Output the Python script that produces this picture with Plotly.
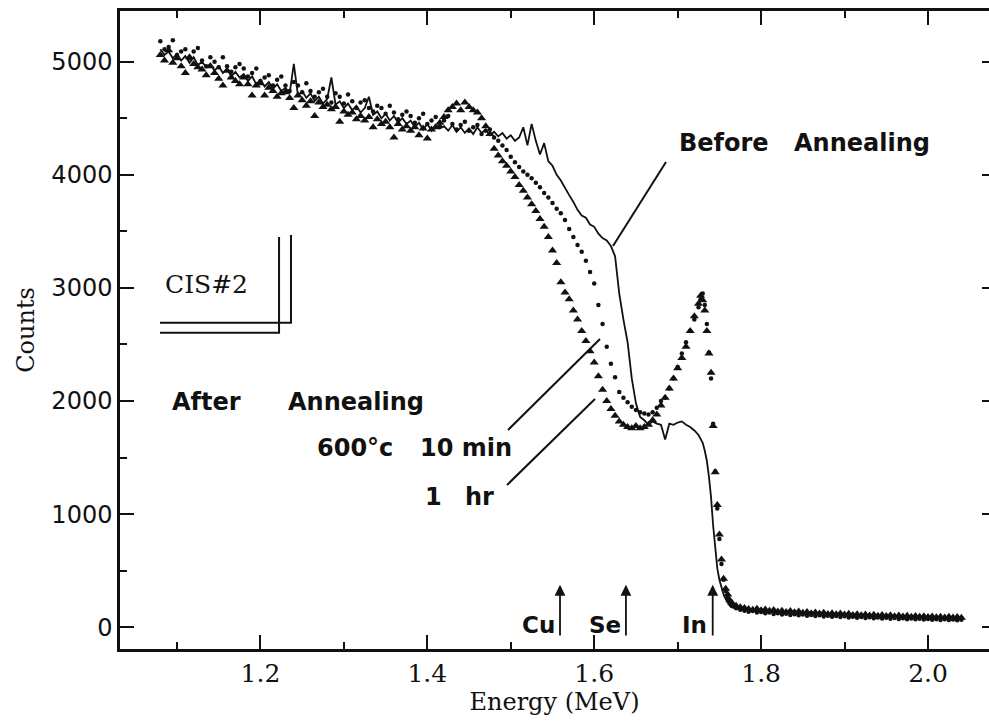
import plotly.graph_objects as go

# ---------------- data ----------------
energy = [
    1.080, 1.085, 1.090, 1.095, 1.100, 1.105, 1.110, 1.115, 1.120, 1.125,
    1.130, 1.135, 1.140, 1.145, 1.150, 1.155, 1.160, 1.165, 1.170, 1.175,
    1.180, 1.185, 1.190, 1.195, 1.200, 1.205, 1.210, 1.215, 1.220, 1.225,
    1.230, 1.235, 1.240, 1.245, 1.250, 1.255, 1.260, 1.265, 1.270, 1.275,
    1.280, 1.285, 1.290, 1.295, 1.300, 1.305, 1.310, 1.315, 1.320, 1.325,
    1.330, 1.335, 1.340, 1.345, 1.350, 1.355, 1.360, 1.365, 1.370, 1.375,
    1.380, 1.385, 1.390, 1.395, 1.400, 1.405, 1.410, 1.415, 1.420, 1.425,
    1.430, 1.435, 1.440, 1.445, 1.450, 1.455, 1.460, 1.465, 1.470, 1.475,
    1.480, 1.485, 1.490, 1.495, 1.500, 1.505, 1.510, 1.515, 1.520, 1.525,
    1.530, 1.535, 1.540, 1.545, 1.550, 1.555, 1.560, 1.565, 1.570, 1.575,
    1.580, 1.585, 1.590, 1.595, 1.600, 1.605, 1.610, 1.615, 1.620, 1.625,
    1.630, 1.635, 1.640, 1.645, 1.650, 1.655, 1.660, 1.665, 1.670, 1.675,
    1.680, 1.685, 1.690, 1.695, 1.700, 1.705, 1.710, 1.715, 1.720, 1.725,
    1.7275, 1.7300, 1.7325, 1.7350, 1.7375, 1.7400, 1.7425, 1.7450,
    1.7475, 1.7500, 1.7525, 1.7550, 1.7575, 1.7600, 1.7625,
    1.765, 1.770, 1.775, 1.780, 1.785, 1.790, 1.795, 1.800, 1.805, 1.810,
    1.815, 1.820, 1.825, 1.830, 1.835, 1.840, 1.845, 1.850, 1.855, 1.860,
    1.865, 1.870, 1.875, 1.880, 1.885, 1.890, 1.895, 1.900, 1.905, 1.910,
    1.915, 1.920, 1.925, 1.930, 1.935, 1.940, 1.945, 1.950, 1.955, 1.960,
    1.965, 1.970, 1.975, 1.980, 1.985, 1.990, 1.995, 2.000, 2.005, 2.010,
    2.015, 2.020, 2.025, 2.030, 2.035, 2.040,
]

counts_before = [
    5110, 5060, 5090, 5030, 5070, 5010, 5050, 4990, 5040, 4970,
    5000, 4950, 4980, 4920, 4960, 4900, 4940, 4870, 4910, 4860,
    4890, 4830, 4870, 4800, 4840, 4780, 4820, 4760, 4800, 4740,
    4770, 4720, 4980, 4700, 4740, 4680, 4720, 4650, 4690, 4630,
    4670, 4860, 4620, 4650, 4590, 4630, 4570, 4610, 4550, 4590,
    4690, 4530, 4560, 4500, 4540, 4480, 4520, 4460, 4500, 4450,
    4480, 4420, 4460, 4400, 4450, 4390, 4440, 4410, 4430, 4390,
    4440, 4380, 4420, 4370, 4410, 4360, 4420, 4370, 4400, 4350,
    4380, 4340, 4370, 4320, 4350, 4300, 4330, 4420, 4260, 4450,
    4300, 4180, 4280, 4120, 4080, 4000, 3950, 3880, 3820, 3760,
    3690, 3640, 3620, 3560, 3540, 3480, 3440, 3420, 3370, 3280,
    2950, 2720, 2520, 2200, 1980, 1860, 1830, 1790, 1820, 1800,
    1790, 1660, 1800, 1790, 1810, 1820, 1790, 1770, 1740, 1700,
    1670, 1630, 1560, 1470, 1330, 1150, 900, 680,
    520, 420, 350, 290, 250, 215, 190,
    175, 165, 158, 150, 148, 142, 145, 138, 140, 134,
    136, 130, 132, 127, 129, 124, 126, 121, 123, 118,
    120, 115, 117, 112, 114, 110, 111, 107, 109, 104,
    106, 102, 104, 99, 101, 97, 99, 95, 96, 93,
    95, 91, 92, 89, 90, 87, 88, 85, 86, 83,
    84, 81, 82, 80, 80, 78,
]

counts_10min = [
    5180, 5110, 5130, 5190, 5060, 5090, 5110, 5030, 5090, 5120,
    5010, 4960, 5040, 5000, 4950, 5040, 4960, 4910, 4950, 4980,
    4940, 4870, 4900, 4940, 4830, 4860, 4880, 4790, 4840, 4870,
    4790, 4740, 4820, 4790, 4730, 4810, 4740, 4690, 4730, 4760,
    4690, 4640, 4720, 4690, 4630, 4710, 4650, 4590, 4640, 4660,
    4590, 4560, 4610, 4590, 4540, 4610, 4550, 4490, 4530, 4560,
    4520, 4460, 4500, 4540, 4450, 4480, 4510, 4430, 4480, 4520,
    4450, 4400, 4440, 4470, 4390, 4420, 4440, 4360, 4390, 4400,
    4330, 4300, 4260, 4220, 4160, 4110, 4070, 4030, 4000, 3970,
    3930, 3890, 3840, 3800, 3750, 3700, 3660, 3600, 3520, 3450,
    3380, 3320, 3240, 3140, 3040, 2850, 2680, 2480, 2330, 2210,
    2080, 2030, 1990, 1950, 1920, 1900, 1890, 1880, 1900, 1940,
    2000, 2030, 2110, 2200, 2300, 2420, 2520, 2620, 2720, 2830,
    2900, 2950, 2850, 2680, 2430, 2200, 1800, 1380,
    1050, 780, 560, 420, 320, 260, 225,
    190, 168, 155, 146, 138, 143, 130, 136, 124, 130,
    118, 125, 113, 120, 109, 116, 106, 112, 102, 109,
    99, 106, 96, 103, 93, 100, 90, 97, 87, 94,
    85, 91, 83, 88, 80, 86, 78, 84, 76, 82,
    74, 80, 72, 78, 70, 76, 68, 74, 67, 72,
    65, 70, 64, 68, 63, 66,
]

counts_1hr = [
    5060, 5010, 5100, 4990, 5030, 4960, 4900, 5040, 4980, 4950,
    4930, 4880, 4960, 4900, 4850, 4790, 4920, 4860, 4830, 4800,
    4860, 4800, 4700, 4790, 4810, 4700, 4770, 4740, 4690, 4720,
    4730, 4680, 4590, 4700, 4660, 4610, 4650, 4520, 4640, 4600,
    4620, 4580, 4600, 4470, 4560, 4530, 4550, 4490, 4520, 4480,
    4510, 4420, 4490, 4450, 4470, 4420, 4330, 4450, 4400, 4430,
    4390, 4420, 4350, 4410, 4320, 4400, 4420, 4460, 4510, 4570,
    4600, 4630, 4570, 4640, 4600, 4570, 4550, 4500, 4430, 4360,
    4230, 4170, 4120, 4080, 4030, 3980, 3910, 3860, 3800, 3740,
    3680, 3610, 3540, 3450, 3330, 3220, 3050, 2960, 2900, 2800,
    2720, 2620, 2530, 2440, 2340, 2220, 2100, 2000, 1930, 1870,
    1820, 1790, 1770, 1760, 1780, 1760, 1770, 1790, 1830, 1880,
    1960, 2030, 2110, 2200, 2290, 2380, 2480, 2620, 2750, 2860,
    2930, 2890, 2800, 2620, 2420, 2250, 1780, 1370,
    1080, 820, 600, 430, 340, 290, 240,
    215, 190, 178, 170, 162, 156, 164, 150, 158, 146,
    152, 140, 147, 136, 143, 132, 139, 128, 135, 125,
    131, 121, 128, 118, 125, 115, 122, 112, 119, 109,
    116, 107, 113, 104, 110, 102, 108, 100, 106, 98,
    104, 96, 102, 94, 100, 92, 98, 90, 96, 89,
    94, 87, 92, 86, 91, 85,
]

x_tick_values = [1.2, 1.4, 1.6, 1.8, 2.0]
x_tick_labels = ["1.2", "1.4", "1.6", "1.8", "2.0"]
y_tick_values = [0, 1000, 2000, 3000, 4000, 5000]
y_tick_labels = ["0", "1000", "2000", "3000", "4000", "5000"]

edge_names = ["Cu", "Se", "In"]
edge_energies = [1.559, 1.638, 1.742]

X_RANGE = [1.0317, 2.0731]
Y_RANGE = [-192, 5448]

SANS = "DejaVu Sans"
SERIF = "DejaVu Serif"
INK = "#111111"

# ---------------- figure ----------------
fig = go.Figure()

fig.add_trace(go.Scatter(
    x=energy, y=counts_1hr, mode="markers", name="600°C 1 hr",
    marker=dict(symbol="triangle-up", size=8, color=INK, line=dict(width=0)),
))
fig.add_trace(go.Scatter(
    x=energy, y=counts_10min, mode="markers", name="600°C 10 min",
    marker=dict(symbol="circle", size=4.5, color=INK, line=dict(width=0)),
))
fig.add_trace(go.Scatter(
    x=energy, y=counts_before, mode="lines", name="Before Annealing",
    line=dict(color=INK, width=1.8),
))
# empty trace so the right-hand tick axis is drawn
fig.add_trace(go.Scatter(x=[], y=[], yaxis="y2", showlegend=False,
                         hoverinfo="skip"))

bold = dict(family=SANS, size=24, color=INK, weight="bold")
annotations = []


def label(text, x, y, font=bold, anchor="left"):
    annotations.append(dict(
        x=x, y=y, xref="x", yref="y", text=text, showarrow=False,
        xanchor=anchor, yanchor="middle", font=font,
    ))


label("Before", 1.6994, 4280)
label("Annealing", 1.8371, 4280)
label("After", 1.0916, 1992)
label("Annealing", 1.2306, 1992)
label("600°c", 1.2654, 1585)
label("10 min", 1.3889, 1585)
label("1", 1.3949, 1152)
label("hr", 1.4428, 1152)
label("CIS#2", 1.0832, 3030, font=dict(family=SERIF, size=25, color=INK))

# element edge arrows
edge_font = dict(family=SANS, size=23, color=INK, weight="bold")
for name, e in zip(edge_names, edge_energies):
    annotations.append(dict(
        x=e, y=375, ax=e, ay=-86, xref="x", yref="y", axref="x", ayref="y",
        showarrow=True, arrowhead=2, arrowsize=1.2, arrowwidth=1.8,
        arrowcolor=INK, text="",
    ))
    annotations.append(dict(
        x=e - 0.004, y=20, xref="x", yref="y", text=name, showarrow=False,
        xanchor="right", yanchor="middle", font=edge_font,
    ))

shapes = [
    # leader lines
    dict(type="line", xref="x", yref="y", x0=1.6225, y0=3371, x1=1.6860, y1=4113,
         line=dict(color=INK, width=2)),
    dict(type="line", xref="x", yref="y", x0=1.4967, y0=1744, x1=1.6069, y1=2549,
         line=dict(color=INK, width=2)),
    dict(type="line", xref="x", yref="y", x0=1.4955, y0=1258, x1=1.6009, y1=2018,
         line=dict(color=INK, width=2)),
    # CIS#2 double corner mark
    dict(type="path", xref="x", yref="y",
         path="M 1.0796,2693 L 1.2366,2693 L 1.2366,3468",
         line=dict(color=INK, width=2)),
    dict(type="path", xref="x", yref="y",
         path="M 1.0796,2604 L 1.2223,2604 L 1.2223,3451",
         line=dict(color=INK, width=2)),
]

fig.update_layout(
    width=989, height=722,
    margin=dict(l=120, r=0, t=11, b=73),
    paper_bgcolor="white", plot_bgcolor="white",
    showlegend=False,
    annotations=annotations,
    shapes=shapes,
    xaxis=dict(
        range=X_RANGE, showgrid=False, zeroline=False,
        showline=True, linewidth=2.5, linecolor=INK, mirror="ticks",
        ticks="inside", ticklen=14, tickwidth=2, tickcolor=INK,
        tickvals=x_tick_values, ticktext=x_tick_labels,
        tickfont=dict(family=SERIF, size=25, color=INK),
        minor=dict(ticks="inside", ticklen=7, tickwidth=2, tickcolor=INK,
                   dtick=0.1, tick0=1.0, showgrid=False),
        title=dict(text="Energy (MeV)", font=dict(family=SERIF, size=24, color=INK),
                   standoff=6),
    ),
    yaxis=dict(
        range=Y_RANGE, showgrid=False, zeroline=False,
        showline=True, linewidth=2.5, linecolor=INK, mirror=False,
        ticks="inside", ticklen=14, tickwidth=2, tickcolor=INK,
        tickvals=y_tick_values, ticktext=y_tick_labels,
        tickfont=dict(family=SANS, size=24, color=INK),
        minor=dict(ticks="inside", ticklen=7, tickwidth=2, tickcolor=INK,
                   dtick=500, tick0=0, showgrid=False),
        title=dict(text="Counts", font=dict(family=SERIF, size=24, color=INK),
                   standoff=10),
    ),
    yaxis2=dict(
        range=Y_RANGE, overlaying="y", side="right", anchor="x",
        showgrid=False, zeroline=False, showline=False,
        ticks="inside", ticklen=7, tickwidth=2, tickcolor=INK,
        tickvals=y_tick_values, showticklabels=False,
    ),
)

fig.write_html("out.html")
